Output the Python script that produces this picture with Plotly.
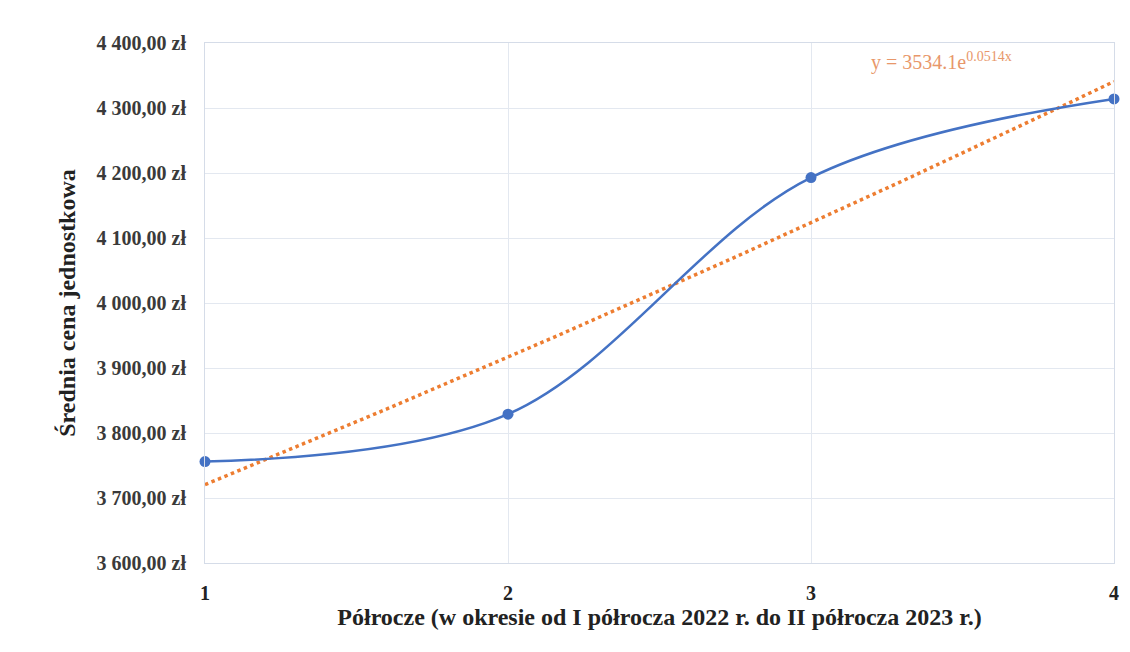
import numpy as np
import plotly.graph_objects as go

# Half-year periods and average unit price (PLN)
periods = [1, 2, 3, 4]
avg_price = [3756, 3829, 4193, 4314]

# Exponential trend y = a * e^(b x)
trend_a = 3534.1
trend_b = 0.0514
trend_label = "y = 3534.1e<sup>0.0514x</sup>"

y_ticks = [3600, 3700, 3800, 3900, 4000, 4100, 4200, 4300, 4400]
y_tick_text = ["3 600,00 zł", "3 700,00 zł", "3 800,00 zł", "3 900,00 zł", "4 000,00 zł",
               "4 100,00 zł", "4 200,00 zł", "4 300,00 zł", "4 400,00 zł"]

x_trend = np.linspace(periods[0], periods[-1], 60)
y_trend = trend_a * np.exp(trend_b * x_trend)

serif = "Liberation Serif"
fig = go.Figure()
fig.add_trace(go.Scatter(
    x=x_trend, y=y_trend, mode="lines",
    line=dict(color="#ED7D31", width=3.5, dash="dot"),
    hoverinfo="skip", cliponaxis=False,
))
fig.add_trace(go.Scatter(
    x=periods, y=avg_price, mode="lines+markers",
    line=dict(color="#4472C4", width=2.5, shape="spline", smoothing=1.0),
    marker=dict(color="#4472C4", size=11),
    cliponaxis=False,
))

fig.add_annotation(
    x=0.81, y=4372, xref="x domain", yref="y", text=trend_label, showarrow=False,
    font=dict(family=serif, size=20, color="#E8976A"), xanchor="center",
)

fig.update_layout(
    width=1130, height=652,
    margin=dict(l=205, r=16, t=43, b=89),
    paper_bgcolor="white", plot_bgcolor="white",
    showlegend=False,
    font=dict(family=serif, color="#333333"),
)
fig.update_xaxes(
    range=[1, 4], tickvals=periods, ticktext=[str(p) for p in periods],
    showgrid=True, gridcolor="#E3E8F0", gridwidth=1,
    showline=True, linecolor="#D5DCE8", mirror=True, zeroline=False,
    ticks="", ticklabelstandoff=12,
    tickfont=dict(family=serif, size=20, color="#222222", weight="bold"),
    title=dict(text="Półrocze (w okresie od I półrocza 2022 r. do II półrocza 2023 r.)",
               font=dict(family=serif, size=24, color="#222222", weight="bold"), standoff=4),
)
fig.update_yaxes(
    range=[3600, 4400], tickvals=y_ticks, ticktext=y_tick_text,
    showgrid=True, gridcolor="#E3E8F0", gridwidth=1,
    showline=True, linecolor="#D5DCE8", mirror=True, zeroline=False,
    ticks="", ticklabelstandoff=14,
    tickfont=dict(family=serif, size=20, color="#3a3a3a", weight="bold"),
    title=dict(text="Średnia cena jednostkowa",
               font=dict(family=serif, size=24, color="#222222", weight="bold"), standoff=14),
)

fig.write_html("out.html")
